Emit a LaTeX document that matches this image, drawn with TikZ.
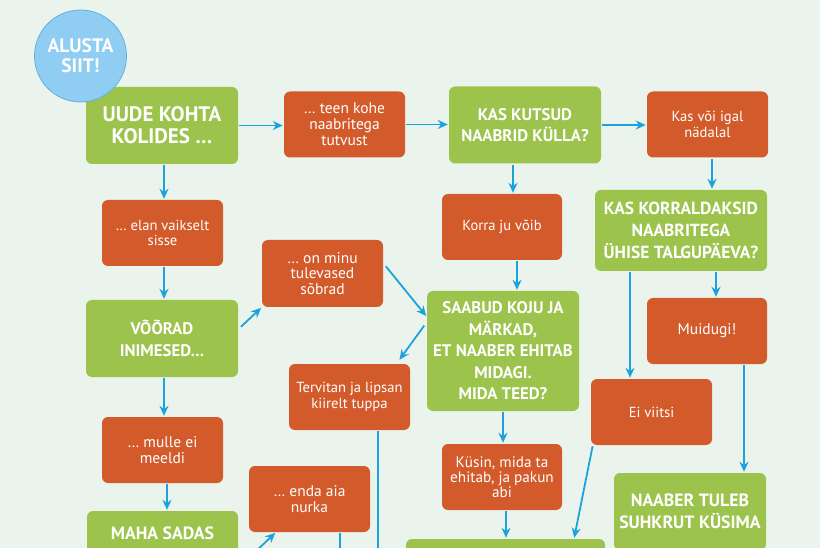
\documentclass[tikz,border=0pt]{standalone}
\usepackage{fontspec}
\setmainfont{PT Sans}
\usepackage{xcolor}
\usetikzlibrary{positioning,calc,arrows.meta}
\definecolor{bgmint}{HTML}{EAF4EC}
\definecolor{boxgreen}{HTML}{9CC34B}
\definecolor{boxorange}{HTML}{D35B2B}
\definecolor{arrowblue}{HTML}{1CA2DD}
\definecolor{startblue}{HTML}{8FCDF3}
\definecolor{startline}{HTML}{5DB2E4}

\begin{document}
\begin{tikzpicture}[x=1pt,y=1pt,
	qbox/.style={fill=boxgreen, rounded corners=6pt, text=white, align=center, minimum width=152pt, minimum height=77pt, inner sep=2pt, font=\fontsize{16.8}{21.5}\selectfont\bfseries},
	abox/.style={fill=boxorange, rounded corners=6pt, text=white, align=center, minimum width=121pt, minimum height=66pt, inner sep=2pt, font=\fontsize{14.6}{15.5}\selectfont},
	arr/.style={draw=arrowblue, line width=1.8pt, -{Stealth[length=10pt,width=9pt]}, shorten >=1pt, shorten <=1pt}]
					\useasboundingbox (0,0) rectangle (820,-548);
					\fill[bgmint] (0,0) rectangle (820,-548);
					\clip (0,0) rectangle (820,-548);
					\node[qbox, font=\fontsize{21}{22}\selectfont\bfseries] (kolides) at (162,-125.5) {UUDE KOHTA\\KOLIDES \dots};
					\node[circle, fill=startblue, draw=startline, line width=0.8pt, minimum size=92pt, inner sep=0, text=white, align=center, font=\fontsize{19.5}{20}\selectfont\bfseries] (alusta) at (80.5,-56) {ALUSTA\\SIIT!};
					\node[abox, font=\fontsize{15.5}{16}\selectfont] (tutvust) at (344.5,-124.5) {\dots\ teen kohe\\naabritega\\tutvust};
					\node[qbox] (kulla) at (525,-125) {KAS KUTSUD\\NAABRID KÜLLA?};
					\node[abox] (nadalal) at (707.5,-124.5) {Kas või igal\\nädalal};
					\node[qbox, minimum width=172pt, minimum height=81pt, font=\fontsize{17.5}{22}\selectfont\bfseries] (talgu) at (681,-230.5) {KAS KORRALDAKSID\\NAABRITEGA\\ÜHISE TALGUPÄEVA?};
					\node[abox, minimum width=120pt] (korra) at (502,-227) {Korra ju võib};
					\node[abox] (vaikselt) at (162.5,-233) {\dots\ elan vaikselt\\sisse};
					\node[abox, minimum height=67pt, font=\fontsize{15.5}{15.5}\selectfont] (sobrad) at (322.5,-273.5) {\dots\ on minu\\tulevased\\sõbrad};
					\node[qbox] (vooras) at (162,-338.5) {VÕÕRAD\\INIMESED\dots};
					\node[qbox, minimum height=120pt] (ehitab) at (503,-351) {SAABUD KOJU JA\\MÄRKAD,\\ET NAABER EHITAB\\MIDAGI.\\MIDA TEED?};
					\node[abox] (tuppa) at (349.5,-397) {Tervitan ja lipsan\\kiirelt tuppa};
					\node[abox, minimum width=120pt, font=\fontsize{15.5}{16}\selectfont] (muidugi) at (707,-331) {Muidugi!};
					\node[abox] (viitsi) at (651.5,-412) {Ei viitsi};
					\node[abox, font=\fontsize{15.5}{16}\selectfont] (meeldi) at (162.5,-450) {\dots\ mulle ei\\meeldi};
					\node[abox, minimum width=120pt, font=\fontsize{15.2}{15}\selectfont] (abi) at (502,-477) {Küsin, mida ta\\ehitab, ja pakun\\abi};
					\node[abox, font=\fontsize{15.5}{16}\selectfont] (nurka) at (309.5,-499) {\dots\ enda aia\\nurka};
					\node[qbox, font=\fontsize{17.8}{22}\selectfont\bfseries] (suhkur) at (690,-511.5) {NAABER TULEB\\SUHKRUT KÜSIMA};
					\node[qbox, minimum width=151pt, minimum height=67pt, font=\fontsize{17.8}{22}\selectfont\bfseries] (sadas) at (162.5,-544.5) {MAHA SADAS\\\mbox{}};
					\node[qbox, minimum width=199pt, minimum height=82pt] (alla) at (505.5,-580) {};
					\coordinate (ulaltA) at (340,-600);
					\coordinate (ulaltB) at (378,-600);
					\draw[arr] (kolides.east) -- (kolides.east -| tutvust.west);
					\draw[arr] (tutvust.east) -- (tutvust.east -| kulla.west);
					\draw[arr] (kulla.east) -- (kulla.east -| nadalal.west);
					\draw[arr] ([xshift=2pt]kolides.south) -- ([xshift=2pt]kolides.south |- vaikselt.north);
					\draw[arr] ([xshift=-12pt]kulla.south) -- ([xshift=-12pt]kulla.south |- korra.north);
					\draw[arr] ([xshift=4.5pt]nadalal.south) -- ([xshift=4.5pt]nadalal.south |- talgu.north);
					\draw[arr] ([xshift=15pt]korra.south) -- ([xshift=15pt]korra.south |- ehitab.north);
					\draw[arr] ([xshift=-51pt]talgu.south) -- ([xshift=-51pt]talgu.south |- viitsi.north);
					\draw[arr] ([xshift=35pt]talgu.south) -- ([xshift=35pt]talgu.south |- muidugi.north);
					\draw[arr] ([xshift=1.5pt]vaikselt.south) -- ([xshift=1.5pt]vaikselt.south |- vooras.north);
					\draw[arr] ([xshift=2pt,yshift=11pt]vooras.east) -- (sobrad.south west);
					\draw[arr] ([xshift=2pt,yshift=8pt]sobrad.east) -- ([yshift=-26pt]ehitab.north west);
					\draw[arr, shorten >=5pt] ([xshift=-2pt,yshift=-34pt]ehitab.north west) -- ([xshift=47pt]tuppa.north);
					\draw[arr] ([xshift=2pt]vooras.south) -- ([xshift=2pt]vooras.south |- meeldi.north);
					\draw[arr] ([xshift=4.5pt]meeldi.south) -- ([xshift=4.5pt]meeldi.south |- sadas.north);
					\draw[arr] (ehitab.south) -- (ehitab.south |- abi.north);
					\draw[arr] ([xshift=4pt]abi.south) -- ([xshift=4pt]abi.south |- alla.north);
					\draw[arr] ([xshift=2pt]viitsi.south west) -- ([xshift=68.5pt]alla.north);
					\draw[arr] ([xshift=37pt]muidugi.south) -- ([xshift=37pt]muidugi.south |- suhkur.north);
					\draw[arr] ([xshift=2pt,yshift=-21.5pt]sadas.east) -- ([xshift=-33.5pt]nurka.south);
					\draw[arr] ([xshift=30.5pt]nurka.south) -- (ulaltA);
					\draw[arr] ([xshift=28.5pt]tuppa.south) -- (ulaltB);
				\end{tikzpicture}
\end{document}
